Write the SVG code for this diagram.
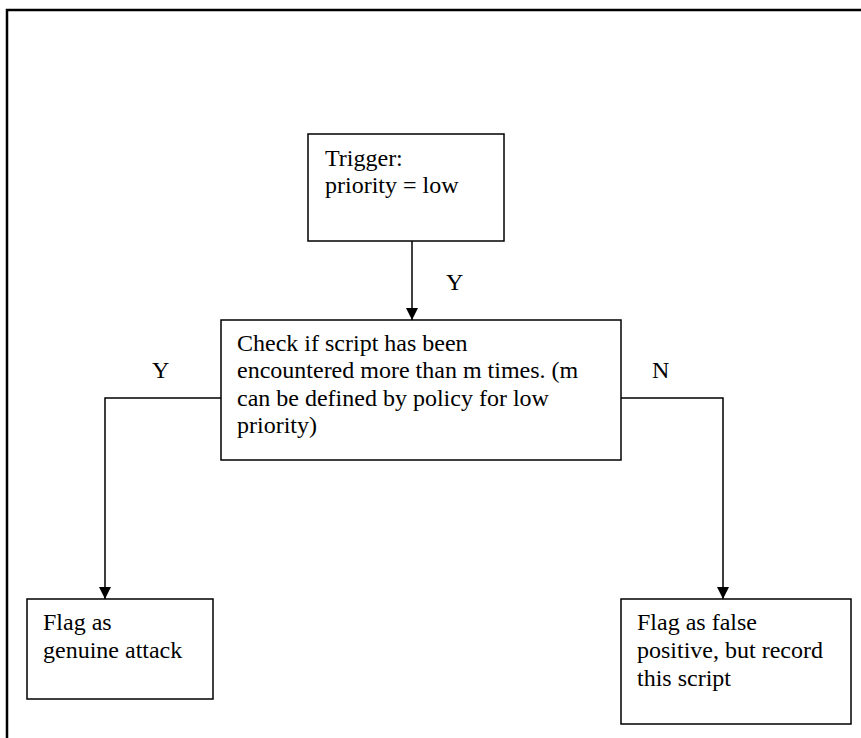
<svg xmlns="http://www.w3.org/2000/svg" width="861" height="738" viewBox="0 0 861 738">
<style>
.box{fill:#fff;stroke:#000;stroke-width:1.5}
.t{font-family:'Liberation Serif','DejaVu Serif',serif;font-size:24px;fill:#000}
.c{stroke:#000;stroke-width:1.5;fill:none}
</style>
<defs>
<marker id="ah" markerWidth="12" markerHeight="12" refX="12" refY="6" orient="auto" markerUnits="userSpaceOnUse">
<path d="M0,0 L12,6 L0,12 Z" fill="#000"/>
</marker>
</defs>
<rect x="0" y="0" width="861" height="738" fill="#fff"/>
<g id="frame">
<path d="M7,738 V10 H861" fill="none" stroke="#000" stroke-width="2.5"/>
</g>
<g id="connectors">
<path class="c" d="M412,241 V320" marker-end="url(#ah)"/>
<path class="c" d="M221,398 H105 V599" marker-end="url(#ah)"/>
<path class="c" d="M621,398 H723 V599" marker-end="url(#ah)"/>
<text class="t" font-family="Liberation Serif, serif" x="446" y="290">Y</text>
<text class="t" font-family="Liberation Serif, serif" x="152" y="378">Y</text>
<text class="t" font-family="Liberation Serif, serif" x="652" y="378">N</text>
</g>
<g id="trigger">
<rect class="box" x="308" y="134" width="196" height="107"/>
<text class="t" font-family="Liberation Serif, serif" x="325" y="166">Trigger:</text>
<text class="t" font-family="Liberation Serif, serif" x="325" y="193">priority = low</text>
</g>
<g id="check">
<rect class="box" x="221" y="320" width="400" height="140"/>
<text class="t" font-family="Liberation Serif, serif" x="237" y="351">Check if script has been</text>
<text class="t" font-family="Liberation Serif, serif" x="237" y="378">encountered more than m times. (m</text>
<text class="t" font-family="Liberation Serif, serif" x="237" y="406">can be defined by policy for low</text>
<text class="t" font-family="Liberation Serif, serif" x="237" y="433">priority)</text>
</g>
<g id="genuine">
<rect class="box" x="27" y="599" width="186" height="100"/>
<text class="t" font-family="Liberation Serif, serif" x="43" y="630">Flag as</text>
<text class="t" font-family="Liberation Serif, serif" x="43" y="658">genuine attack</text>
</g>
<g id="falsepos">
<rect class="box" x="621" y="599" width="230" height="125"/>
<text class="t" font-family="Liberation Serif, serif" x="637" y="630">Flag as false</text>
<text class="t" font-family="Liberation Serif, serif" x="637" y="658">positive, but record</text>
<text class="t" font-family="Liberation Serif, serif" x="637" y="686">this script</text>
</g>
</svg>
